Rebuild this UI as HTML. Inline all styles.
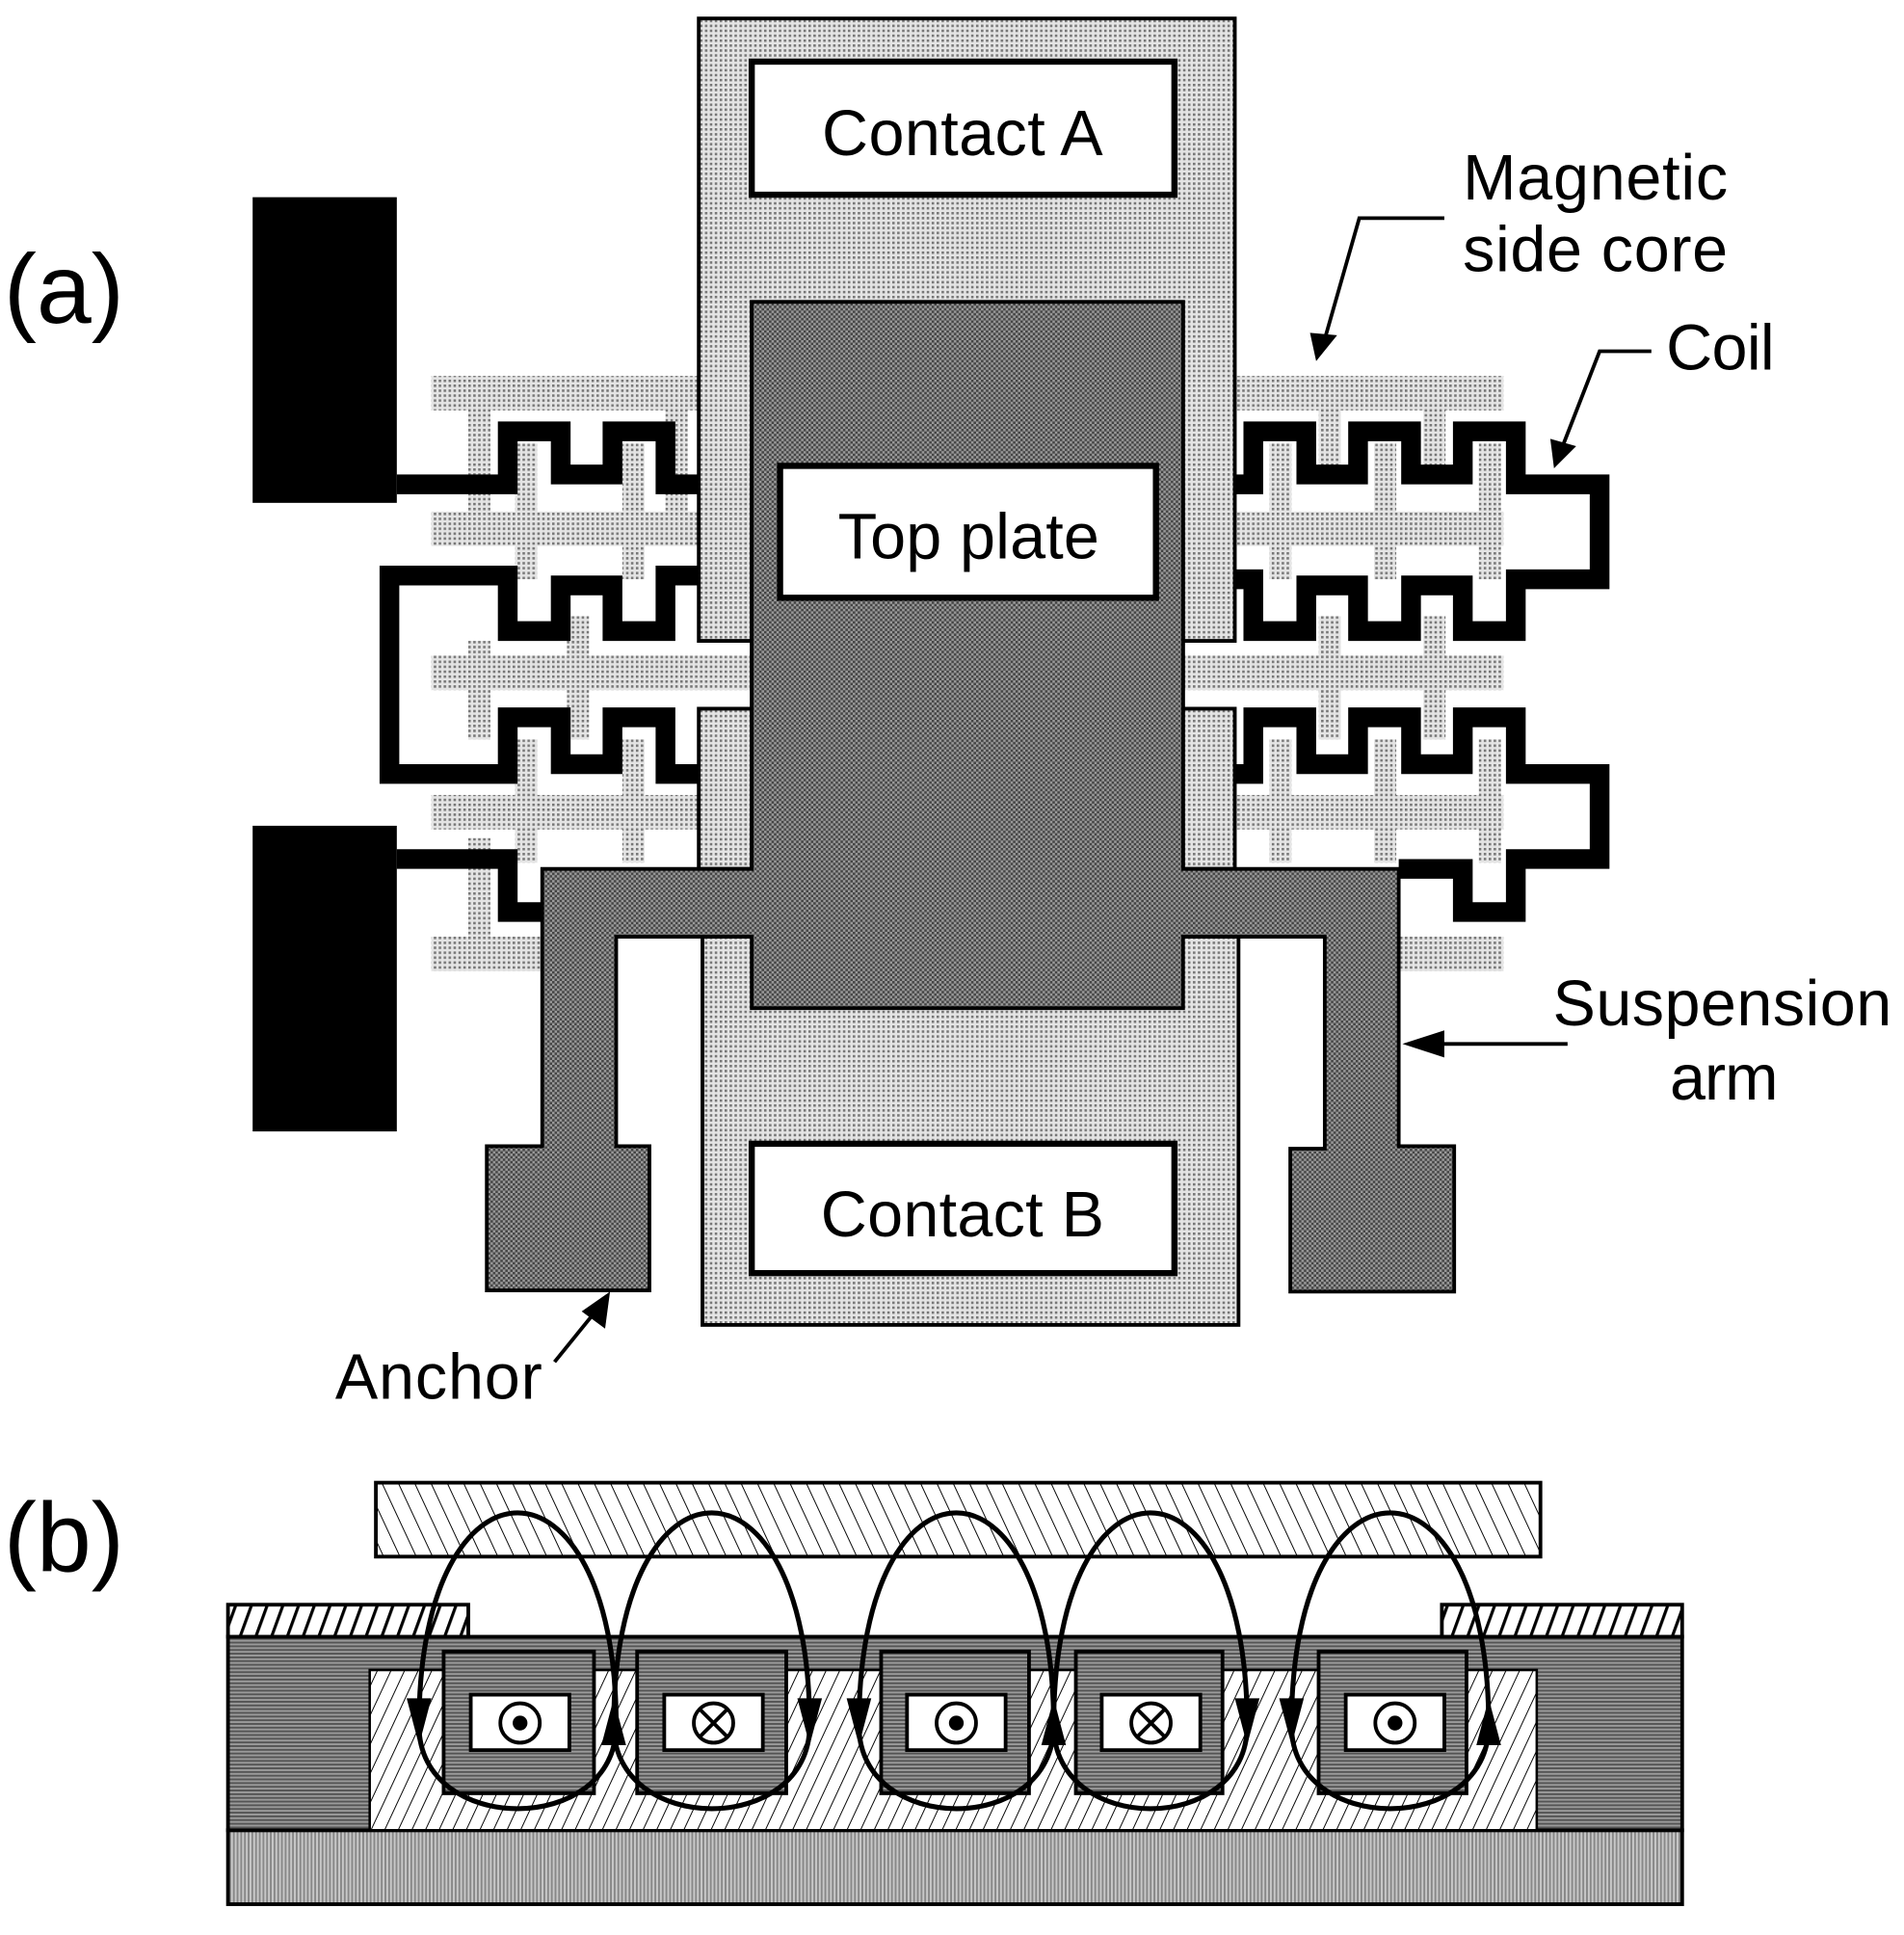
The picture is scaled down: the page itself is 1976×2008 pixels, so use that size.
<!DOCTYPE html>
<html><head><meta charset="utf-8"><style>
html,body{margin:0;padding:0;background:#fff;}
svg{display:block;}
text{font-family:"Liberation Sans",Arial,sans-serif;fill:#000;}
</style></head><body>
<svg width="1976" height="2008" viewBox="0 0 1545 1570" preserveAspectRatio="none" xmlns="http://www.w3.org/2000/svg">
<defs>
<pattern id="lt" width="4" height="4" patternUnits="userSpaceOnUse"><rect width="4" height="4" fill="#e4e4e4"/><rect width="2" height="2" fill="#777"/></pattern>
<pattern id="dk" width="4" height="4" patternUnits="userSpaceOnUse"><rect width="4" height="4" fill="#9a9a9a"/><rect width="2" height="2" fill="#444"/><rect x="2" y="2" width="2" height="2" fill="#444"/></pattern>
<pattern id="hat" width="10" height="10" patternUnits="userSpaceOnUse" patternTransform="rotate(25)"><rect width="10" height="10" fill="#fff"/><line x1="0" y1="0" x2="0" y2="10" stroke="#000" stroke-width="1.5"/></pattern>
<pattern id="hat2" width="12" height="12" patternUnits="userSpaceOnUse" patternTransform="rotate(-25)"><rect width="12" height="12" fill="#fff"/><line x1="0" y1="0" x2="0" y2="12" stroke="#000" stroke-width="1.5"/></pattern>
<pattern id="hat3" width="12" height="12" patternUnits="userSpaceOnUse" patternTransform="rotate(20)"><rect width="12" height="12" fill="#fff"/><line x1="0" y1="0" x2="0" y2="12" stroke="#000" stroke-width="5"/></pattern>
<pattern id="sub" width="3" height="3" patternUnits="userSpaceOnUse"><rect width="3" height="3" fill="#c8c8c8"/><rect width="1.5" height="3" fill="#888"/></pattern>
<pattern id="mid" width="3" height="3" patternUnits="userSpaceOnUse"><rect width="3" height="3" fill="#9a9a9a"/><rect width="3" height="1.5" fill="#555"/></pattern>
</defs>

<text x="3" y="262" font-size="80">(a)</text>

<g fill="url(#lt)">
<rect x="350" y="305" width="217" height="28"/>
<rect x="350" y="415" width="217" height="28"/>
<rect x="350" y="532" width="260" height="28"/>
<rect x="350" y="645" width="217" height="28"/>
<rect x="350" y="760" width="90" height="28"/>
<rect x="380" y="305" width="18" height="120"/>
<rect x="540" y="305" width="18" height="120"/>
<rect x="418" y="360" width="18" height="110"/>
<rect x="505" y="360" width="18" height="110"/>
<rect x="380" y="520" width="18" height="80"/>
<rect x="460" y="500" width="18" height="100"/>
<rect x="380" y="680" width="18" height="100"/>
<rect x="418" y="600" width="18" height="100"/>
<rect x="505" y="600" width="18" height="100"/>
</g>
<g fill="url(#lt)">
<rect x="1002" y="305" width="218" height="28"/>
<rect x="1002" y="415" width="218" height="28"/>
<rect x="960" y="532" width="260" height="28"/>
<rect x="1002" y="645" width="218" height="28"/>
<rect x="1135" y="760" width="85" height="28"/>
<rect x="1030" y="360" width="18" height="110"/>
<rect x="1115" y="360" width="18" height="110"/>
<rect x="1200" y="360" width="18" height="110"/>
<rect x="1070" y="305" width="18" height="80"/>
<rect x="1155" y="305" width="18" height="80"/>
<rect x="1070" y="500" width="18" height="100"/>
<rect x="1155" y="500" width="18" height="100"/>
<rect x="1030" y="600" width="18" height="100"/>
<rect x="1115" y="600" width="18" height="100"/>
<rect x="1200" y="600" width="18" height="100"/>
</g>

<g fill="none" stroke="#000" stroke-width="16" stroke-linejoin="miter">
<polyline points="322,393 412,393 412,350 455,350 455,385 497,385 497,350 540,350 540,393 567,393"/>
<polyline points="567,467 540,467 540,512 497,512 497,475 455,475 455,512 412,512 412,467 316,467 316,628 412,628 412,582 455,582 455,620 497,620 497,582 540,582 540,628 567,628"/>
<polyline points="322,697 412,697 412,740 440,740"/>
<polyline points="1002,393 1017,393 1017,350 1060,350 1060,385 1102,385 1102,350 1145,350 1145,385 1187,385 1187,350 1230,350 1230,393 1298,393 1298,470 1230,470 1230,512 1187,512 1187,475 1145,475 1145,512 1102,512 1102,475 1060,475 1060,512 1017,512 1017,470 1002,470"/>
<polyline points="1002,628 1017,628 1017,582 1060,582 1060,620 1102,620 1102,582 1145,582 1145,620 1187,620 1187,582 1230,582 1230,628 1298,628 1298,697 1230,697 1230,740 1187,740 1187,705 1135,705"/>
</g>

<rect x="205" y="160" width="117" height="248" fill="#000"/>
<rect x="205" y="670" width="117" height="248" fill="#000"/>

<path d="M567,15 H1002 V520 H960 V575 H1002 V705 H960 V245 H610 V705 H567 V575 H610 V520 H567 Z" fill="url(#lt)" stroke="#000" stroke-width="3"/>
<rect x="570" y="760" width="435" height="315" fill="url(#lt)" stroke="#000" stroke-width="3"/>

<path d="M610,245 H960 V705 H1135 V930 H1180 V1048 H1047 V932 H1075 V760 H960 V818 H610 V760 H500 V930 H527 V1047 H395 V930 H440 V705 H610 Z" fill="url(#dk)" stroke="#000" stroke-width="3"/>

<rect x="610" y="50" width="343" height="108" fill="#fff" stroke="#000" stroke-width="5"/>
<text x="781" y="126" font-size="52" text-anchor="middle" textLength="228">Contact A</text>
<rect x="633" y="378" width="305" height="107" fill="#fff" stroke="#000" stroke-width="5"/>
<text x="786" y="453" font-size="52" text-anchor="middle" textLength="212">Top plate</text>
<rect x="610" y="928" width="343" height="105" fill="#fff" stroke="#000" stroke-width="5"/>
<text x="781" y="1003" font-size="52" text-anchor="middle" textLength="230">Contact B</text>

<text x="1187" y="162" font-size="52" textLength="215">Magnetic</text>
<text x="1187" y="220" font-size="52" textLength="215">side core</text>
<polyline points="1172,177 1103,177 1075,275" fill="none" stroke="#000" stroke-width="3"/>
<polygon points="1063,270 1085,272 1068,293" fill="#000"/>
<text x="1352" y="300" font-size="52" textLength="88">Coil</text>
<polyline points="1340,285 1298,285 1268,362" fill="none" stroke="#000" stroke-width="3"/>
<polygon points="1258,356 1279,362 1261,380" fill="#000"/>
<text x="1260" y="832" font-size="52" textLength="275">Suspension</text>
<text x="1355" y="892" font-size="52" textLength="88">arm</text>
<line x1="1272" y1="847" x2="1160" y2="847" stroke="#000" stroke-width="3"/>
<polygon points="1138,847 1172,836 1172,858" fill="#000"/>
<text x="272" y="1135" font-size="52" textLength="168">Anchor</text>
<line x1="450" y1="1105" x2="480" y2="1068" stroke="#000" stroke-width="3"/>
<polygon points="495,1048 491,1078 472,1064" fill="#000"/>

<text x="3" y="1275" font-size="80">(b)</text>
<rect x="305" y="1203" width="945" height="60" fill="url(#hat2)" stroke="#000" stroke-width="3"/>
<rect x="185" y="1485" width="1180" height="60" fill="url(#sub)" stroke="#000" stroke-width="3"/>
<rect x="185" y="1328" width="1180" height="157" fill="url(#mid)" stroke="#000" stroke-width="3"/>
<rect x="185" y="1302" width="195" height="26" fill="url(#hat3)" stroke="#000" stroke-width="3"/>
<rect x="1170" y="1302" width="195" height="26" fill="url(#hat3)" stroke="#000" stroke-width="3"/>
<rect x="300" y="1355" width="947" height="130" fill="url(#hat)" stroke="#000" stroke-width="2"/>
<g fill="url(#mid)" stroke="#000" stroke-width="3">
<rect x="360" y="1340" width="122" height="115"/>
<rect x="517" y="1340" width="121" height="115"/>
<rect x="715" y="1340" width="120" height="115"/>
<rect x="873" y="1340" width="119" height="115"/>
<rect x="1070" y="1340" width="120" height="115"/>
</g>
<g fill="#fff" stroke="#000" stroke-width="3">
<rect x="382" y="1375" width="80" height="45"/>
<rect x="539" y="1375" width="80" height="45"/>
<rect x="736" y="1375" width="80" height="45"/>
<rect x="894" y="1375" width="80" height="45"/>
<rect x="1092" y="1375" width="80" height="45"/>
<circle cx="422" cy="1398" r="16"/><circle cx="776" cy="1398" r="16"/><circle cx="1132" cy="1398" r="16"/>
<circle cx="579" cy="1398" r="16"/><circle cx="934" cy="1398" r="16"/>
</g>
<g fill="#000"><circle cx="422" cy="1398" r="6"/><circle cx="776" cy="1398" r="6"/><circle cx="1132" cy="1398" r="6"/></g>
<g stroke="#000" stroke-width="3">
<line x1="568" y1="1387" x2="590" y2="1409"/><line x1="590" y1="1387" x2="568" y2="1409"/>
<line x1="923" y1="1387" x2="945" y2="1409"/><line x1="945" y1="1387" x2="923" y2="1409"/>
</g>
<g fill="none" stroke="#000" stroke-width="4">
<path d="M340,1400 C340,1170 500,1170 500,1400 C500,1490 340,1490 340,1400 Z"/>
<path d="M498,1400 C498,1170 657,1170 657,1400 C657,1490 498,1490 498,1400 Z"/>
<path d="M697,1400 C697,1170 855,1170 855,1400 C855,1490 697,1490 697,1400 Z"/>
<path d="M855,1400 C855,1170 1012,1170 1012,1400 C1012,1490 855,1490 855,1400 Z"/>
<path d="M1048,1400 C1048,1170 1208,1170 1208,1400 C1208,1490 1048,1490 1048,1400 Z"/>
</g>
<g fill="#000">
<polygon points="330,1378 350,1378 340,1416"/>
<polygon points="488,1416 508,1416 498,1378"/>
<polygon points="647,1378 667,1378 657,1416"/>
<polygon points="687,1378 707,1378 697,1416"/>
<polygon points="845,1416 865,1416 855,1378"/>
<polygon points="1002,1378 1022,1378 1012,1416"/>
<polygon points="1038,1378 1058,1378 1048,1416"/>
<polygon points="1198,1416 1218,1416 1208,1378"/>
</g>
</svg>
</body></html>
